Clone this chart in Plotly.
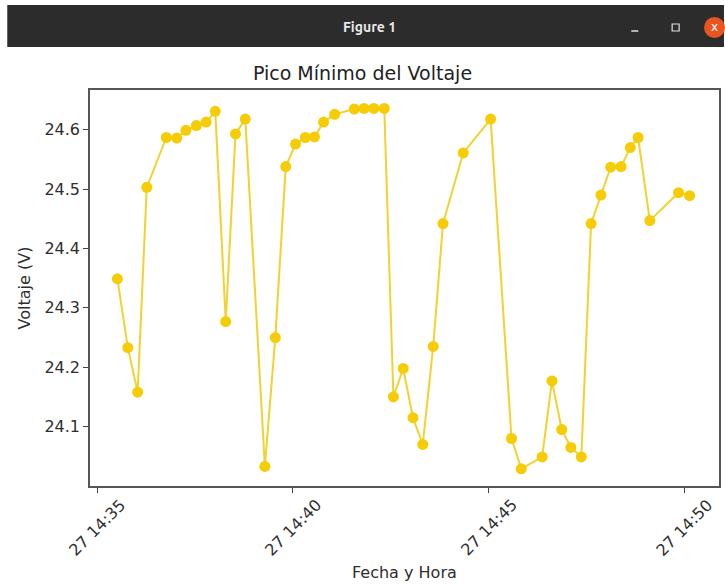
import plotly.graph_objects as go

DATE = "2023-06-27"
times = ["14:35:31", "14:35:47", "14:36:02", "14:36:16", "14:36:46", "14:37:02", "14:37:16",
         "14:37:32", "14:37:47", "14:38:01", "14:38:17", "14:38:32", "14:38:47", "14:39:17",
         "14:39:33", "14:39:49", "14:40:04", "14:40:19", "14:40:33", "14:40:47", "14:41:04",
         "14:41:34", "14:41:49", "14:42:04", "14:42:20", "14:42:34", "14:42:49", "14:43:04",
         "14:43:19", "14:43:35", "14:43:50", "14:44:21", "14:45:03", "14:45:35", "14:45:50",
         "14:46:22", "14:46:37", "14:46:52", "14:47:06", "14:47:22", "14:47:37", "14:47:52",
         "14:48:07", "14:48:23", "14:48:37", "14:48:49", "14:49:07", "14:49:51", "14:50:08"]
voltaje = [24.349, 24.233, 24.158, 24.503, 24.587, 24.586, 24.599, 24.607, 24.613, 24.631,
           24.277, 24.593, 24.618, 24.033, 24.250, 24.538, 24.576, 24.587, 24.588, 24.613,
           24.626, 24.635, 24.636, 24.636, 24.636, 24.150, 24.198, 24.115, 24.070, 24.235,
           24.442, 24.561, 24.618, 24.080, 24.029, 24.049, 24.177, 24.095, 24.065, 24.049,
           24.442, 24.490, 24.537, 24.538, 24.570, 24.587, 24.447, 24.494, 24.489]
tick_times = ["14:35:00", "14:40:00", "14:45:00", "14:50:00"]
tick_labels = ["27 14:35", "27 14:40", "27 14:45", "27 14:50"]
y_ticks = [24.1, 24.2, 24.3, 24.4, 24.5, 24.6]

W, H = 725, 585
L, R, T, B = 90, 4, 90, 99
PW, PH = W - L - R, H - T - B


def px(xpix):
    return (xpix - L) / PW


def py(ypix):
    return (H - B - ypix) / PH


x = [f"{DATE} {t}" for t in times]
FONT = "DejaVu Sans"
TXT = "#2e2e2e"

fig = go.Figure()
fig.add_trace(go.Scatter(
    x=x, y=voltaje, mode="lines+markers",
    line=dict(color="#F2D230", width=2),
    marker=dict(color="#F5CC05", size=11),
    showlegend=False,
))

fig.update_layout(
    width=W, height=H,
    margin=dict(l=L, r=R, t=T, b=B),
    paper_bgcolor="white", plot_bgcolor="white",
    font=dict(family=FONT, size=16, color=TXT),
    title=dict(text="Pico Mínimo del Voltaje", x=px(405.5), xanchor="center",
               y=1 - 73 / H, yanchor="middle",
               font=dict(family=FONT, size=19, color="#222222")),
    xaxis=dict(
        range=[f"{DATE} 14:34:49", f"{DATE} 14:50:53"],
        tickmode="array", tickvals=[f"{DATE} {t}" for t in tick_times],
        showticklabels=False,
        ticks="outside", ticklen=5, tickcolor="#444",
        showline=True, linecolor="#555", linewidth=1.5, mirror=True,
        showgrid=False, zeroline=False,
    ),
    yaxis=dict(
        range=[24.0, 24.667],
        tickmode="array", tickvals=y_ticks, ticktext=[f"{v:.1f}" for v in y_ticks],
        ticks="outside", ticklen=5, tickcolor="#444",
        showline=True, linecolor="#555", linewidth=1.5, mirror=True,
        showgrid=False, zeroline=False,
        tickfont=dict(family=FONT, size=16, color=TXT),
        title=dict(text="Voltaje (V)", font=dict(family=FONT, size=16, color=TXT), standoff=10),
    ),
)

# rotated x tick labels, centred on their ticks (matplotlib style)
for t, lab in zip(tick_times, tick_labels):
    fig.add_annotation(text=lab, x=f"{DATE} {t}", xref="x", y=py(527), yref="paper",
                       xanchor="center", yanchor="middle", textangle=-45, showarrow=False,
                       font=dict(family=FONT, size=16, color=TXT))
fig.add_annotation(text="Fecha y Hora", x=px(405.5), xref="paper", y=py(572), yref="paper",
                   xanchor="center", yanchor="middle", showarrow=False,
                   font=dict(family=FONT, size=16, color=TXT))

# window title bar decoration
fig.add_shape(type="rect", xref="paper", yref="paper",
              x0=px(7), x1=px(726), y0=py(47), y1=py(5),
              fillcolor="#2c2c2c", line=dict(width=0), layer="above")
fig.add_annotation(text="<b>Figure 1</b>", xref="paper", yref="paper",
                   x=px(370), y=py(27), xanchor="center", yanchor="middle", showarrow=False,
                   font=dict(family="Ubuntu, DejaVu Sans", size=14, color="#e8e8e8"))
fig.add_shape(type="line", xref="paper", yref="paper",
              x0=px(633), x1=px(640), y0=py(31), y1=py(31),
              line=dict(color="#e0e0e0", width=1.5), layer="above")
fig.add_shape(type="rect", xref="paper", yref="paper",
              x0=px(674), x1=px(681), y0=py(31), y1=py(24),
              line=dict(color="#e0e0e0", width=1.2), layer="above")
fig.add_shape(type="circle", xref="paper", yref="paper",
              x0=px(706), x1=px(727), y0=py(38), y1=py(17),
              fillcolor="#E95420", line=dict(width=0), layer="above")
fig.add_annotation(text="x", xref="paper", yref="paper",
                   x=px(716), y=py(27), xanchor="center", yanchor="middle", showarrow=False,
                   font=dict(family=FONT, size=12, color="white"))

fig.write_html("out.html", config={"displayModeBar": False},
               post_script="document.body.style.margin='0';")
